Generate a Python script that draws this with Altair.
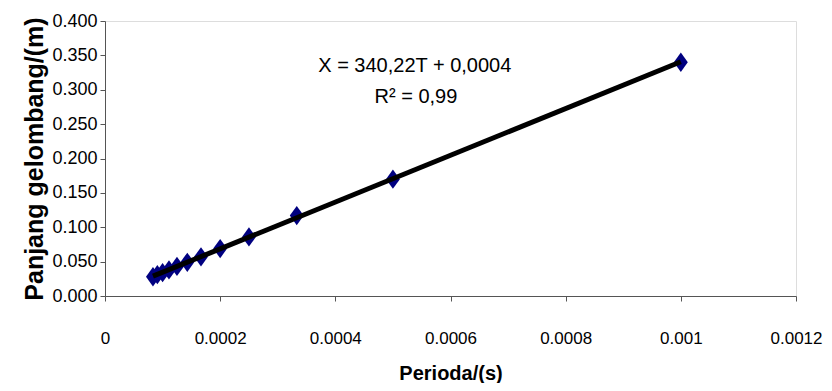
import altair as alt
import pandas as pd

periods = [0.001, 0.0005, 0.000333, 0.00025, 0.0002, 0.0001667, 0.0001429,
           0.000125, 0.0001111, 0.0001, 0.0000909, 0.0000833]
wavelengths = [0.340, 0.170, 0.117, 0.086, 0.069, 0.057, 0.049,
               0.043, 0.038, 0.034, 0.031, 0.028]
x_ticks = [0, 0.0002, 0.0004, 0.0006, 0.0008, 0.001, 0.0012]
y_ticks = [0.0, 0.05, 0.10, 0.15, 0.20, 0.25, 0.30, 0.35, 0.40]
eq_lines = ["X = 340,22T + 0,0004", "R² = 0,99"]
eq_x = [0.000538, 0.000540]
eq_y = [0.3345, 0.2895]

df = pd.DataFrame({"T": periods, "X": wavelengths})
txt = pd.DataFrame({"label": eq_lines, "T": eq_x, "X": eq_y})

FONT = "Liberation Sans"

xs = alt.Scale(domain=[0, 0.0012], nice=False, zero=False)
ys = alt.Scale(domain=[0, 0.4], nice=False, zero=False)

xaxis = alt.Axis(values=x_ticks, format=".4~f", title="Perioda/(s)", grid=False,
                 labelFont=FONT, labelFontSize=17, labelColor="black",
                 labelPadding=29, tickSize=5, tickColor="#555", domainColor="#555",
                 labelOverlap=False, labelFlush=False,
                 titleFont=FONT, titleFontSize=20, titleFontWeight="bold",
                 titleColor="black", titlePadding=17)
yaxis = alt.Axis(values=y_ticks, format=".3f", title="Panjang gelombang/(m)", grid=False,
                 labelFont=FONT, labelFontSize=18, labelColor="black",
                 labelPadding=3, tickSize=5, tickColor="#555", domainColor="#555",
                 labelOverlap=False, labelFlush=False,
                 titleFont=FONT, titleFontSize=25, titleFontWeight="bold",
                 titleColor="black", titlePadding=4)

X = alt.X("T:Q", scale=xs, axis=xaxis)
Y = alt.Y("X:Q", scale=ys, axis=yaxis)

base = alt.Chart(df)

points = base.mark_point(
    shape="M0,-1.25L0.9,0L0,1.25L-0.9,0Z", filled=True, color="#000080",
    size=240, opacity=1
).encode(x=X, y=Y)

trend = base.transform_regression("T", "X", method="linear").mark_line(
    color="black", strokeWidth=5
).encode(x=X, y=Y)

text = alt.Chart(txt).mark_text(font=FONT, fontSize=20, color="black", align="center",
                               baseline="middle").encode(
    x=X, y=Y, text="label:N")

chart = alt.layer(points, trend, text).properties(
    width=691, height=275,
    autosize=alt.AutoSizeParams(type="none"),
    padding={"left": 97, "top": 13, "right": 28, "bottom": 87},
).configure_view(stroke=None).configure(background="white")

chart.save("out.html", embed_options={"renderer": "svg", "actions": False})
